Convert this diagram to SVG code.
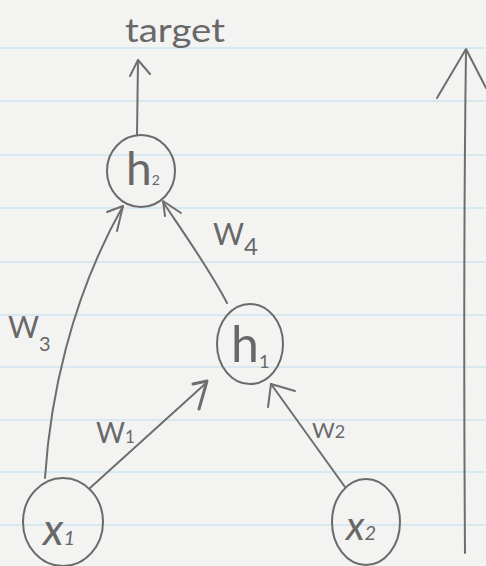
<svg xmlns="http://www.w3.org/2000/svg" width="486" height="566" viewBox="0 0 486 566">
<style>
.paper{fill:#f3f3f2}
.rule{stroke:#cfe5ef;stroke-width:1.3}
.pen{fill:none;stroke:#6e6e6e;stroke-width:2;stroke-linecap:round;stroke-linejoin:round}
.node{fill:none;stroke:#6a6a6a;stroke-width:2}
.lbl{font-family:Lato,"Liberation Sans",Arial,sans-serif;font-weight:400;fill:#686868}
</style>
<rect class="paper" x="0" y="0" width="486" height="566"/>
<g id="ruling">
<line class="rule" x1="0" y1="48" x2="486" y2="48"/>
<line class="rule" x1="0" y1="101" x2="486" y2="101"/>
<line class="rule" x1="0" y1="155" x2="486" y2="155"/>
<line class="rule" x1="0" y1="208" x2="486" y2="208"/>
<line class="rule" x1="0" y1="262" x2="486" y2="262"/>
<line class="rule" x1="0" y1="315" x2="486" y2="315"/>
<line class="rule" x1="0" y1="367" x2="486" y2="367"/>
<line class="rule" x1="0" y1="420" x2="486" y2="420"/>
<line class="rule" x1="0" y1="472" x2="486" y2="472"/>
<line class="rule" x1="0" y1="525" x2="486" y2="525"/>
</g>
<g id="connectors">
<path class="pen" d="M137 135 L138 60"/>
<path class="pen" d="M130 76 L138 60 L150 74"/>
<path class="pen" d="M45 478 C50 400 70 300 123 206"/>
<path class="pen" d="M107 212 L123 206 L117 231"/>
<path class="pen" d="M227 303 C210 270 185 235 163 202"/>
<path class="pen" d="M181 213 L163 201 L165 216"/>
<path class="pen" d="M90 488 L205 384"/>
<path class="pen" d="M193 384 L207 381 L199 409" style="stroke-width:3"/>
<path class="pen" d="M345 487 L271 384"/>
<path class="pen" d="M295 391 L271 384 L268 407"/>
<path class="pen" d="M465 553 C464 400 464 200 466 50"/>
<path class="pen" d="M437 98 L466 49 L486 88"/>
</g>
<text class="lbl" x="125" y="42" font-size="32" textLength="100" lengthAdjust="spacingAndGlyphs">target</text>
<g id="h2">
<ellipse class="node" cx="141" cy="171" rx="34" ry="36"/>
<text class="lbl" x="126" y="185" font-size="46">h<tspan font-size="14">2</tspan></text>
</g>
<g id="h1">
<ellipse class="node" cx="250" cy="344" rx="33" ry="40"/>
<text class="lbl" x="231" y="362" font-size="50">h<tspan font-size="18" dy="6">1</tspan></text>
</g>
<g id="x1">
<ellipse class="node" cx="63" cy="522" rx="40" ry="44"/>
<text class="lbl" x="43" y="545" font-size="44" font-style="italic">x<tspan font-size="20">1</tspan></text>
</g>
<g id="x2">
<ellipse class="node" cx="366" cy="522" rx="34" ry="43"/>
<text class="lbl" x="346" y="540" font-size="40" font-style="italic">x<tspan font-size="20">2</tspan></text>
</g>
<text class="lbl" x="213" y="245" font-size="30">W<tspan font-size="24" dy="10">4</tspan></text>
<text class="lbl" x="8" y="338" font-size="30">W<tspan font-size="20" dy="13">3</tspan></text>
<text class="lbl" x="96" y="443" font-size="28">W<tspan font-size="17">1</tspan></text>
<text class="lbl" x="312" y="438" font-size="22">W<tspan font-size="18">2</tspan></text>
</svg>
